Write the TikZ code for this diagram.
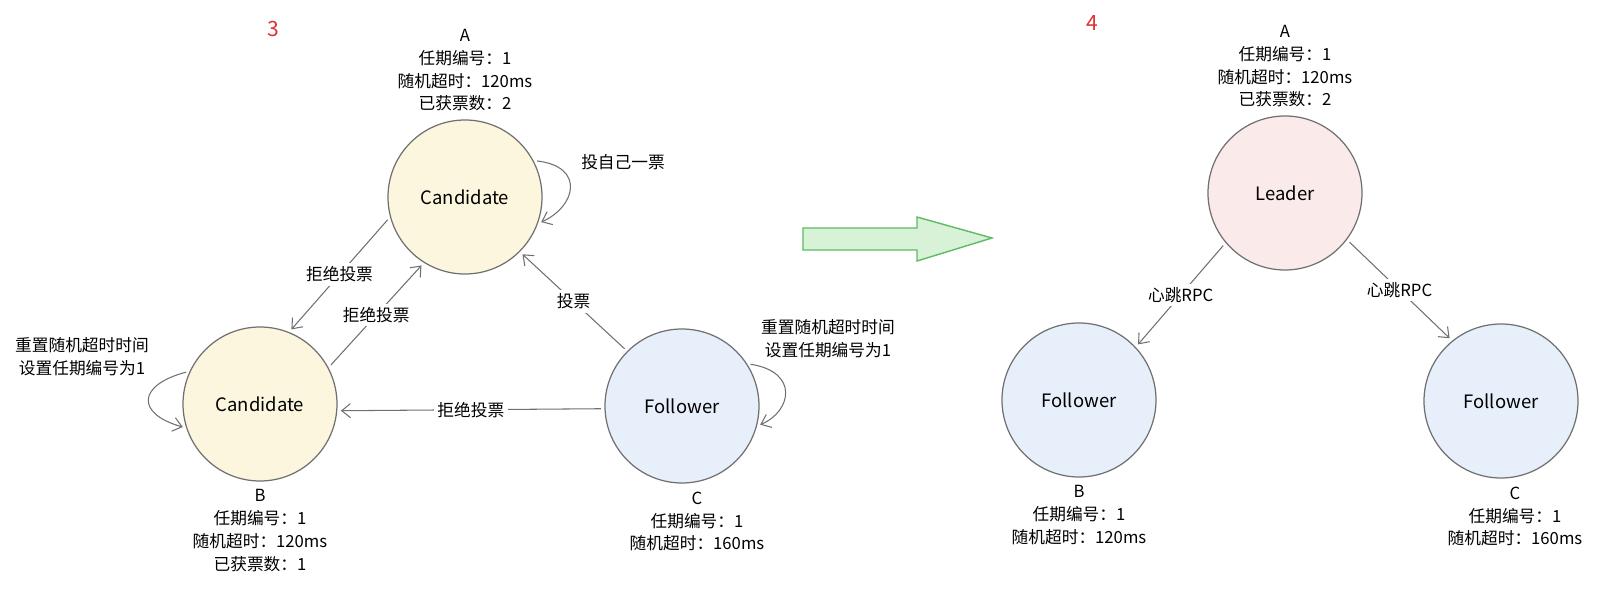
\documentclass[tikz,border=0pt]{standalone}
\usepackage{fontspec}
\usepackage{tikz}
\usetikzlibrary{positioning,arrows.meta}
\newfontfamily\cjk{Noto Sans CJK SC}

\definecolor{linegray}{HTML}{707070}
\definecolor{candfill}{HTML}{FCF6DE}
\definecolor{follfill}{HTML}{E6EFFA}
\definecolor{leadfill}{HTML}{FBEAEA}
\definecolor{arrowgreen}{HTML}{5DBB63}
\definecolor{arrowfill}{HTML}{D8F2D8}
\definecolor{stepred}{HTML}{E03131}

\tikzset{
    state/.style={circle, draw=linegray, line width=0.7pt, minimum size=3.08cm,
        inner sep=0pt, font=\cjk\fontsize{10.5pt}{12pt}\selectfont},
    cand/.style={state, fill=candfill},
    foll/.style={state, fill=follfill},
    lead/.style={state, fill=leadfill},
    info/.style={align=center, inner sep=1pt, font=\cjk\fontsize{9.5pt}{13pt}\selectfont},
    steplabel/.style={text=stepred, font=\cjk\fontsize{12pt}{14pt}\selectfont},
    link/.style={draw=linegray, line width=0.6pt, shorten <=2pt, shorten >=2pt,
        -{Straight Barb[length=5pt,width=8pt]}},
    linklabel/.style={fill=white, inner sep=2pt, font=\cjk\fontsize{9.5pt}{12pt}\selectfont},
    bigarrow/.style={draw=arrowgreen, fill=arrowfill, line width=0.8pt, line join=miter}
}

\begin{document}
\begin{tikzpicture}
                \useasboundingbox (0,0) rectangle (32.2,11.92);

                \node[steplabel] (s3) at (5.46,11.34) {3};
                \node[steplabel] (s4) at (21.84,11.46) {4};

                \node[cand] (A) at (9.30,7.98) {Candidate};
                \node[cand] (B) at (5.20,3.84) {Candidate};
                \node[foll] (C) at (13.64,3.80) {Follower};

                \node[info, above=0.12cm of A] (Ainfo) {A\\任期编号：1\\随机超时：120ms\\已获票数：2};
                \node[info, below=0.12cm of B] (Binfo) {B\\任期编号：1\\随机超时：120ms\\已获票数：1};
                \node[info, below=0.12cm of C, xshift=0.3cm] (Cinfo) {C\\任期编号：1\\随机超时：160ms};

                \draw[link] (A.195) -- (B.68)
                    node[linklabel, midway] {拒绝投票};
                \draw[link] (B.28) -- (A.238)
                    node[linklabel, midway] {拒绝投票};
                \draw[link] (C.135) -- (A.315)
                    node[linklabel, midway] {投票};
                \draw[link] (C.182) -- (B.355)
                    node[linklabel, midway] {拒绝投票};

                \draw[link] (A.28) .. controls +(1.04,-0.12) and +(0.76,0.34) .. (A.340);
                \node[info] (Aloop) at (12.46,8.68) {投自己一票};

                \draw[link] (B.155) .. controls +(-1.06,-0.28) and +(-1.0,0.28) .. (B.198);
                \node[info] (Bloop) at (1.64,4.79) {重置随机超时时间\\设置任期编号为1};

                \draw[link] (C.33) .. controls +(1.04,-0.16) and +(0.7,0.3) .. (C.345);
                \node[info] (Cloop) at (16.56,5.15) {重置随机超时时间\\设置任期编号为1};

                \draw[bigarrow] (16.06,7.36) -- (18.34,7.36) -- (18.34,7.58) -- (19.84,7.16)
                    -- (18.34,6.70) -- (18.34,6.92) -- (16.06,6.92) -- cycle;

                \node[lead] (L) at (25.70,8.06) {Leader};
                \node[foll] (FB) at (21.58,3.92) {Follower};
                \node[foll] (FC) at (30.02,3.90) {Follower};

                \node[info, above=0.12cm of L] (Linfo) {A\\任期编号：1\\随机超时：120ms\\已获票数：2};
                \node[info, below=0.12cm of FB] (FBinfo) {B\\任期编号：1\\随机超时：120ms};
                \node[info, below=0.12cm of FC, xshift=0.28cm] (FCinfo) {C\\任期编号：1\\随机超时：160ms};

                \draw[link] (L.220) -- (FB.43)
                    node[linklabel, midway] {心跳RPC};
                \draw[link] (L.323) -- (FC.129)
                    node[linklabel, midway] {心跳RPC};
            \end{tikzpicture}
\end{document}
